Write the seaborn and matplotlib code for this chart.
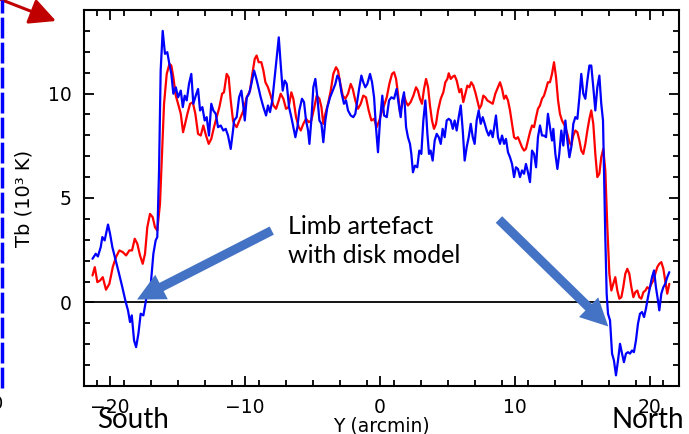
import pandas as pd
import matplotlib.pyplot as plt
import seaborn as sns

# Brightness temperature cuts across the disk (arcmin, 10^3 K)
blue_x = [-21.3, -21.06, -20.9, -20.69, -20.57, -20.4, -20.15, -20.0, -19.83, -19.58, -19.33, -19.09,
          -18.84, -18.67, -18.52, -18.39, -18.22, -18.07, -17.9, -17.73, -17.53, -17.36, -17.19, -16.99,
          -16.79, -16.62, -16.5, -16.37, -16.25, -16.1, -15.93, -15.76, -15.6, -15.46, -15.31, -15.13,
          -14.96, -14.76, -14.61, -14.47, -14.32, -14.15, -13.98, -13.83, -13.65, -13.48, -13.33, -13.16,
          -12.99, -12.84, -12.67, -12.5, -12.35, -12.17, -12.0, -11.8, -11.61, -11.43, -11.26, -11.06,
          -10.89, -10.81, -10.62, -10.44, -10.27, -10.12, -10.02, -9.87, -9.7, -9.53, -9.33, -9.19,
          -9.04, -8.84, -8.64, -8.44, -8.3, -8.15, -7.98, -7.8, -7.65, -7.5, -7.36, -7.21, -7.06, -6.91,
          -6.74, -6.57, -6.42, -6.27, -6.12, -5.98, -5.78, -5.63, -5.48, -5.33, -5.23, -5.09, -4.94,
          -4.79, -4.64, -4.49, -4.34, -4.2, -4.05, -3.9, -3.7, -3.5, -3.31, -3.16, -3.01, -2.86, -2.67,
          -2.52, -2.37, -2.17, -1.98, -1.83, -1.68, -1.53, -1.38, -1.24, -1.09, -0.94, -0.74, -0.59,
          -0.44, -0.3, -0.15, 0.0, 0.17, 0.3, 0.5, 0.67, 0.84, 1.04, 1.23, 1.38, 1.53, 1.65, 1.78, 1.93,
          2.07, 2.22, 2.32, 2.44, 2.59, 2.76, 2.91, 3.06, 3.21, 3.36, 3.51, 3.63, 3.75, 3.9, 4.05, 4.2,
          4.35, 4.5, 4.64, 4.79, 4.94, 5.09, 5.24, 5.39, 5.53, 5.68, 5.83, 5.98, 6.13, 6.27, 6.42, 6.57,
          6.72, 6.87, 7.01, 7.16, 7.31, 7.46, 7.61, 7.76, 7.9, 8.05, 8.2, 8.35, 8.5, 8.59, 8.74, 8.89,
          9.04, 9.19, 9.33, 9.48, 9.63, 9.78, 9.93, 10.07, 10.22, 10.37, 10.52, 10.67, 10.81, 10.96,
          11.11, 11.26, 11.41, 11.56, 11.7, 11.85, 12.0, 12.15, 12.3, 12.44, 12.59, 12.74, 12.84, 12.99,
          13.14, 13.28, 13.43, 13.58, 13.73, 13.88, 14.03, 14.17, 14.32, 14.47, 14.62, 14.77, 14.91,
          15.06, 15.21, 15.36, 15.51, 15.65, 15.8, 15.95, 16.1, 16.25, 16.39, 16.52, 16.59, 16.69, 16.79,
          16.89, 17.04, 17.19, 17.33, 17.48, 17.63, 17.78, 17.93, 18.07, 18.22, 18.37, 18.52, 18.67,
          18.81, 18.96, 19.11, 19.26, 19.41, 19.56, 19.7, 19.85, 20.0, 20.15, 20.3, 20.44, 20.59, 20.69,
          20.84, 20.99, 21.13, 21.28, 21.43]
blue_tb = [2.09, 2.33, 2.2, 2.65, 3.13, 2.97, 3.73, 3.29, 2.65, 2.01, 1.37, 0.73,
           0.02, -0.38, -0.94, -0.62, -1.82, -2.14, -1.5, -0.54, -0.62, 0.02, 0.73, 0.81,
           2.33, 2.97, 3.13, 6.32, 11.1, 13.0, 11.9, 11.98, 11.4, 10.94, 9.99, 10.3,
           9.82, 10.14, 9.35, 9.9, 9.67, 10.46, 10.94, 9.51, 9.9, 10.22, 9.19, 9.35,
           8.71, 8.87, 7.99, 9.51, 9.19, 9.03, 8.39, 8.47, 8.23, 8.31, 7.99, 7.35,
           8.23, 8.71, 8.87, 9.82, 10.14, 9.35, 8.71, 9.82, 9.99, 10.46, 11.1, 10.78,
           10.38, 9.82, 9.35, 8.95, 9.43, 9.11, 9.67, 10.78, 11.74, 12.69, 11.42, 10.14, 10.62, 10.46,
           9.35, 8.87, 8.39, 7.91, 8.39, 9.19, 9.75, 9.59, 8.71, 8.23, 7.59, 8.71, 10.3,
           10.7, 9.82, 8.71, 8.55, 7.67, 8.71, 9.35, 9.82, 10.14, 10.46, 10.86, 10.7, 10.06, 9.51,
           9.67, 9.19, 8.95, 8.87, 9.03, 9.67, 10.3, 10.86, 10.54, 10.3, 10.46, 10.94, 10.54,
           9.82, 8.39, 7.19, 8.71, 9.9, 8.95, 8.87, 9.67, 9.82, 9.75, 10.22, 9.51, 8.87, 9.67, 10.06, 8.39,
           7.91, 7.59, 7.11, 6.23, 6.55, 6.47, 7.27, 7.11, 8.71, 9.67, 8.07, 7.11, 7.27, 6.79, 7.75, 8.07,
           7.91, 7.59, 8.31, 7.91, 8.71, 8.79, 8.71, 8.31, 8.71, 8.23, 8.87, 9.43, 8.23, 6.79, 7.43, 7.91,
           8.55, 7.91, 7.59, 8.71, 9.19, 8.55, 8.87, 8.55, 8.23, 7.99, 8.23, 7.91, 8.55, 8.95, 7.91, 7.59,
           7.99, 7.59, 7.83, 7.19, 6.95, 6.63, 6.0, 6.47, 6.39, 6.0, 6.32, 6.16, 6.63, 6.23,
           5.76, 7.27, 7.11, 6.47, 7.91, 8.47, 7.99, 7.99, 7.91, 9.03, 8.39, 7.75, 8.31, 7.11,
           6.39, 7.11, 8.23, 7.51, 8.71, 7.75, 6.95, 7.43, 8.55, 8.87, 8.79, 9.82, 10.94,
           9.99, 9.75, 10.62, 11.34, 11.34, 10.3, 9.19, 10.3, 10.86, 9.51, 8.71, 6.32, 3.13, 0.42,
           -0.54, -0.86, -2.45, -2.78, -3.49, -2.78, -1.98, -2.45, -2.86, -2.45, -2.38, -2.45, -2.3,
           -2.38, -1.82, -1.02, -0.54, -0.46, -0.7, -0.3, 0.25, 0.73, 1.21, 1.53, 0.73, 0.1, -0.38,
           0.42, 0.73, 0.89, 1.21, 1.45]

red_x = [-21.3, -21.13, -20.94, -20.74, -20.54, -20.3, -20.05, -19.8, -19.56, -19.31, -19.06, -18.81,
         -18.57, -18.37, -18.17, -17.98, -17.78, -17.58, -17.41, -17.24, -17.04, -16.84, -16.67, -16.5,
         -16.3, -16.15, -16.0, -15.8, -15.6, -15.46, -15.31, -15.13, -14.96, -14.76, -14.59, -14.44,
         -14.27, -14.07, -13.87, -13.68, -13.48, -13.28, -13.09, -12.89, -12.69, -12.5, -12.3, -12.1,
         -11.9, -11.7, -11.56, -11.36, -11.21, -11.06, -10.89, -10.81, -10.62, -10.37, -10.12, -9.87,
         -9.63, -9.46, -9.28, -9.14, -8.99, -8.79, -8.64, -8.49, -8.3, -8.1, -7.9, -7.7, -7.5, -7.36,
         -7.16, -6.96, -6.77, -6.57, -6.42, -6.22, -6.02, -5.87, -5.68, -5.48, -5.28, -5.09, -4.89,
         -4.69, -4.49, -4.34, -4.2, -4.05, -3.85, -3.65, -3.46, -3.26, -3.11, -2.96, -2.76, -2.57,
         -2.37, -2.17, -2.02, -1.83, -1.63, -1.43, -1.24, -1.04, -0.84, -0.64, -0.44, -0.25, -0.05,
         0.15, 0.3, 0.5, 0.69, 0.89, 1.04, 1.19, 1.33, 1.48, 1.63, 1.78, 1.93, 2.07, 2.27, 2.47, 2.67,
         2.81, 2.96, 3.11, 3.26, 3.41, 3.56, 3.7, 3.85, 4.0, 4.15, 4.3, 4.5, 4.69, 4.84, 4.99, 5.09,
         5.24, 5.39, 5.53, 5.68, 5.88, 6.02, 6.17, 6.32, 6.47, 6.62, 6.76, 6.91, 7.06, 7.21, 7.36, 7.5,
         7.65, 7.8, 7.95, 8.15, 8.35, 8.54, 8.74, 8.89, 9.04, 9.19, 9.33, 9.48, 9.63, 9.78, 9.93,
         10.07, 10.22, 10.37, 10.52, 10.67, 10.81, 10.96, 11.11, 11.26, 11.41, 11.56, 11.7, 11.85,
         12.0, 12.15, 12.3, 12.44, 12.59, 12.74, 12.89, 13.04, 13.19, 13.33, 13.48, 13.68, 13.88,
         14.03, 14.17, 14.32, 14.47, 14.62, 14.77, 14.91, 15.06, 15.21, 15.36, 15.51, 15.65, 15.8,
         15.95, 16.1, 16.25, 16.39, 16.54, 16.69, 16.84, 16.99, 17.14, 17.28, 17.43, 17.58, 17.73,
         17.88, 18.02, 18.17, 18.32, 18.47, 18.62, 18.77, 18.91, 19.06, 19.21, 19.36, 19.51, 19.66,
         19.8, 19.95, 20.1, 20.25, 20.39, 20.54, 20.69, 20.84, 20.99, 21.13, 21.28, 21.43]
red_tb = [1.29, 1.69, 0.97, 1.05, 1.21, 0.61, 0.89, 1.69, 2.17, 2.49, 2.41, 2.25,
          2.49, 2.49, 3.05, 2.81, 2.25, 1.85, 2.33, 3.6, 4.24, 4.08, 3.6, 3.44,
          4.72, 7.11, 9.51, 10.94, 11.42, 11.34, 10.78, 9.9, 9.51, 9.03, 8.15, 8.55,
          9.03, 9.51, 9.58, 9.03, 8.07, 7.99, 8.47, 7.99, 7.59, 7.83, 8.39, 8.87,
          9.35, 9.99, 10.06, 10.94, 10.78, 9.67, 8.71, 8.55, 8.39, 8.79, 9.19, 9.82,
          10.14, 10.94, 11.66, 11.82, 11.5, 11.5, 11.1, 10.54, 10.3, 9.9, 9.43, 9.27, 9.67, 9.99,
          9.75, 9.27, 9.35, 10.06, 9.75, 8.87, 8.39, 8.23, 8.55, 8.79, 8.63, 8.71, 9.27,
          9.9, 9.75, 9.35, 8.55, 9.03, 9.51, 10.14, 10.94, 11.26, 11.1, 10.54, 9.9, 9.75,
          9.99, 10.46, 10.22, 9.67, 9.27, 9.51, 9.9, 9.82, 9.19, 8.71, 8.79, 8.39, 8.71,
          9.19, 9.43, 9.82, 10.46, 10.94, 11.02, 10.7, 9.99, 9.11, 9.43, 9.9, 9.59, 9.43, 9.59, 9.9, 10.3,
          10.14, 9.75, 9.51, 10.22, 10.7, 10.3, 9.43, 8.71, 8.31, 8.55, 9.19, 9.75, 10.06, 10.54, 10.7, 10.97,
          10.7, 10.81, 10.86, 10.62, 10.06, 10.22, 9.59, 9.99, 10.38, 10.3, 10.54, 10.38, 10.06, 9.67, 9.27, 9.43,
          9.9, 9.82, 9.67, 9.59, 9.51, 9.99, 10.3, 10.54, 10.22, 9.75, 9.9, 9.67, 9.19, 8.55, 7.91,
          7.83, 7.91, 7.67, 7.43, 7.27, 7.35, 7.75, 8.15, 8.47, 8.39, 8.87, 9.27, 9.43,
          9.75, 9.9, 10.22, 10.54, 10.54, 10.94, 11.5, 10.78, 9.67, 9.03, 8.71, 8.47, 8.07,
          7.67, 7.51, 7.99, 8.23, 8.15, 7.75, 7.27, 7.11, 7.59, 8.23, 8.79, 9.19, 8.55,
          7.11, 6.0, 6.16, 6.95, 7.35, 6.32, 3.6, 1.37, 0.57, 0.89, 1.21, 0.57, 0.18,
          0.25, 0.73, 1.37, 1.61, 1.37, 0.73, 0.25, 0.49, 0.57, 0.25, 0.18, 0.49, 0.57,
          0.73, 0.65, 0.89, 1.05, 1.37, 1.69, 1.85, 1.93, 1.61, 1.05, 0.42, 0.89]

x_ticks = [-20, -10, 0, 10, 20]
y_ticks = [0, 5, 10]

blue_df = pd.DataFrame({'Y': blue_x, 'Tb': blue_tb})
red_df = pd.DataFrame({'Y': red_x, 'Tb': red_tb})

sns.set_style('ticks')
plt.rcParams['font.family'] = ['DejaVu Sans']
plt.rcParams.update({'text.color': 'black', 'axes.labelcolor': 'black', 'axes.edgecolor': 'black',
                     'xtick.color': 'black', 'ytick.color': 'black'})

fig = plt.figure(figsize=(6.89, 4.34), dpi=100)
ax = fig.add_axes([0.1219, 0.1106, 0.8636, 0.8664])

# the two profiles
sns.lineplot(data=red_df, x='Y', y='Tb', color='#ff0000', lw=1.6, sort=False, ax=ax)
sns.lineplot(data=blue_df, x='Y', y='Tb', color='#0000ff', lw=1.6, sort=False, ax=ax)
ax.axhline(0, color='black', lw=1.3, zorder=0)

# axes styling
ax.set_xlim(-21.93, 22.15)
ax.set_ylim(-4, 14)
ax.set_xticks(x_ticks)
ax.set_xticks([v / 2 for v in range(-42, 44, 4)], minor=True)
ax.set_yticks(y_ticks)
ax.set_yticks(range(-4, 15), minor=True)
ax.tick_params(which='both', direction='in', top=True, right=True, width=1.3, labelsize=13.5, pad=9)
ax.tick_params(which='major', length=7.5)
ax.tick_params(which='minor', length=4)
for s in ax.spines.values():
    s.set_linewidth(1.5)
ax.set_xlabel('Y (arcmin)', fontsize=13.5, labelpad=-0.5)
ax.set_ylabel('Tb (10³ K)', fontsize=14, labelpad=10)

# annotations
arrow_c = '#4472c4'
ap = dict(arrowstyle='simple,head_length=0.9,head_width=0.9,tail_width=0.3',
          fc=arrow_c, ec='none', shrinkA=0, shrinkB=0, mutation_scale=22)
ax.annotate('', xy=(-18.0, 0.14), xytext=(-8.02, 3.44), arrowprops=ap)
ax.annotate('', xy=(16.91, -1.15), xytext=(8.81, 3.97), arrowprops=ap)
fig.text(0.418, 0.505, 'Limb artefact\nwith disk model', family='Lato', fontsize=18,
         va='top', ha='left', linespacing=1.3)

fig.text(0.141, 0.014, 'South', family='Lato', fontsize=20, va='baseline')
fig.text(0.888, 0.014, 'North', family='Lato', fontsize=20, va='baseline')

# bits of the neighbouring panel
fig.add_artist(plt.Line2D([0.003, 0.003], [0.105, 1.0], color='#0000ff', lw=2.5,
                          dashes=(6, 1.2), transform=fig.transFigure))
fig.text(0.005, 0.07, '0', fontsize=13, ha='right', va='center')
ax.annotate('', xy=(0.0813, 0.9516), xytext=(-0.005, 1.005), xycoords='figure fraction',
            textcoords='figure fraction',
            arrowprops=dict(arrowstyle='-|>,head_length=0.8,head_width=0.4', color='#c00000',
                            lw=2.2, shrinkA=0, shrinkB=0, mutation_scale=20))

plt.savefig('out.png', dpi=100)
